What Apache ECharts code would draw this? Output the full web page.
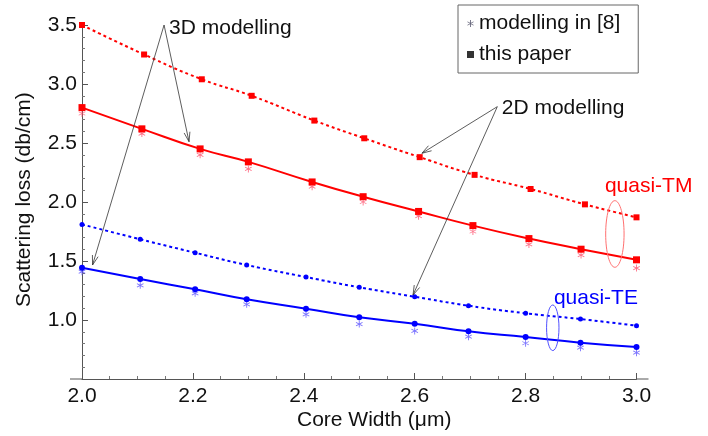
<!DOCTYPE html>
<html>
<head>
<meta charset="utf-8">
<script src="https://cdn.jsdelivr.net/npm/echarts@6/dist/echarts.min.js"></script>
<style>
html,body{margin:0;padding:0;background:#fff;}
#c{width:708px;height:436px;}
</style>
</head>
<body>
<div id="c"></div>
<script>
// ---- data ----
const xTM3 = [2.0, 2.108, 2.213, 2.3, 2.415, 2.507, 2.607, 2.705, 2.806, 2.9, 3.0];
const yTM3 = [2.80, 2.62, 2.45, 2.34, 2.17, 2.045, 1.92, 1.80, 1.69, 1.60, 1.51];
const yTMref = [2.75, 2.58, 2.40, 2.28, 2.13, 2.00, 1.88, 1.75, 1.64, 1.55, 1.44];
const xTM2 = [2.0, 2.112, 2.216, 2.306, 2.419, 2.509, 2.609, 2.708, 2.809, 2.907, 3.0];
const yTM2 = [3.50, 3.25, 3.04, 2.90, 2.69, 2.54, 2.38, 2.23, 2.11, 1.98, 1.87];
const xTE = [2.0, 2.105, 2.204, 2.297, 2.404, 2.5, 2.6, 2.697, 2.8, 2.899, 3.0];
const yTE3 = [1.443, 1.347, 1.260, 1.175, 1.096, 1.023, 0.969, 0.904, 0.856, 0.808, 0.771];
const yTEref = [1.409, 1.294, 1.226, 1.133, 1.048, 0.966, 0.907, 0.859, 0.803, 0.765, 0.723];
const yTE2 = [1.81, 1.684, 1.570, 1.466, 1.364, 1.277, 1.197, 1.121, 1.057, 1.008, 0.952];
const legendNames = ['modelling in [8]', 'this paper'];
const xName = 'Core Width (\u03bcm)';
const yName = 'Scattering loss (db/cm)';
const labels3D = '3D modelling';
const labels2D = '2D modelling';
const labelTM = 'quasi-TM';
const labelTE = 'quasi-TE';

const pair = (xs, ys) => xs.map((x, i) => [x, ys[i]]);
const STAR = 'path://M4.4 0 L5.6 0 L5.6 10 L4.4 10 Z M0.37 3.02 L0.97 1.98 L9.63 6.98 L9.03 8.02 Z M9.03 1.98 L9.63 3.02 L0.97 8.02 L0.37 6.98 Z';
const FONT = 'Liberation Sans, Arial, sans-serif';
const RED = '#ff0000', BLUE = '#0000ff';

const chart = echarts.init(document.getElementById('c'), null, {renderer: 'canvas'});
const option = {
  animation: false,
  backgroundColor: '#fff',
  grid: {left: 82, right: 71.5, top: 25, bottom: 57},
  xAxis: {
    type: 'value', min: 2, max: 3, interval: 0.2,
    axisLine: {lineStyle: {color: '#555', width: 1}},
    axisTick: {inside: true, length: 6, lineStyle: {color: '#555'}},
    minorTick: {show: true, splitNumber: 4, length: 3, lineStyle: {color: '#777'}},
    splitLine: {show: false},
    axisLabel: {color: '#111', fontSize: 21, fontFamily: FONT, margin: 7, formatter: v => v.toFixed(1)}
  },
  yAxis: {
    type: 'value', min: 0.5, max: 3.5, interval: 0.5,
    axisLine: {show: true, lineStyle: {color: '#555', width: 1}},
    axisTick: {show: true, inside: true, length: 6, lineStyle: {color: '#555'}},
    minorTick: {show: true, splitNumber: 5, length: 3, lineStyle: {color: '#777'}},
    splitLine: {show: false},
    axisLabel: {color: '#111', fontSize: 21, fontFamily: FONT, margin: 5,
      formatter: v => (Math.abs(v - 0.5) < 1e-9 ? '' : v.toFixed(1))}
  },
  legend: {
    orient: 'vertical', left: 458, top: 5,
    padding: [8, 18, 8, 9], itemGap: 10, itemWidth: 7, itemHeight: 7,
    borderColor: '#666', borderWidth: 1, backgroundColor: '#fff',
    textStyle: {fontSize: 21, fontFamily: FONT, color: '#111', lineHeight: 21},
    data: [
      {name: legendNames[0], icon: STAR, itemStyle: {color: '#3a3a55'}},
      {name: legendNames[1], icon: 'rect', itemStyle: {color: '#000'}}
    ]
  },
  series: [
    {type: 'line', name: 'TM 2D', data: pair(xTM2, yTM2), smooth: true,
      symbol: 'rect', symbolSize: 6, itemStyle: {color: RED},
      lineStyle: {color: RED, width: 2, type: [3, 3]}, z: 3},
    {type: 'line', name: 'TM 3D', data: pair(xTM3, yTM3), smooth: true,
      symbol: 'rect', symbolSize: 7, itemStyle: {color: RED},
      lineStyle: {color: RED, width: 2}, z: 3},
    {type: 'scatter', name: 'TM ref', data: pair(xTM3, yTMref),
      symbol: STAR, symbolSize: 7, itemStyle: {color: '#ff4d6a'}, z: 2},
    {type: 'line', name: 'TE 2D', data: pair(xTE, yTE2), smooth: true,
      symbol: 'circle', symbolSize: 5, itemStyle: {color: BLUE},
      lineStyle: {color: BLUE, width: 2, type: [3, 3]}, z: 3},
    {type: 'line', name: 'TE 3D', data: pair(xTE, yTE3), smooth: true,
      symbol: 'circle', symbolSize: 6, itemStyle: {color: BLUE},
      lineStyle: {color: BLUE, width: 2}, z: 3},
    {type: 'scatter', name: 'TE ref', data: pair(xTE, yTEref),
      symbol: STAR, symbolSize: 7, itemStyle: {color: '#5a50ff'}, z: 2},
    {type: 'scatter', name: legendNames[0], data: [], symbol: STAR, itemStyle: {color: '#3a3a55'}},
    {type: 'scatter', name: legendNames[1], data: [], symbol: 'rect', itemStyle: {color: '#000'}}
  ]
};
chart.setOption(option);

// ---- annotations (positioned in data coordinates) ----
const P = (x, y) => chart.convertToPixel({gridIndex: 0}, [x, y]);
const g = [];
function arrow(from, to) {
  const a = P(from[0], from[1]), b = P(to[0], to[1]);
  g.push({type: 'line', shape: {x1: a[0], y1: a[1], x2: b[0], y2: b[1]},
    style: {stroke: '#333', lineWidth: 0.8}, z: 10});
  const ang = Math.atan2(b[1] - a[1], b[0] - a[0]);
  const L = 10, w = 0.3;
  const p1 = [b[0] - L * Math.cos(ang - w), b[1] - L * Math.sin(ang - w)];
  const p2 = [b[0] - L * Math.cos(ang + w), b[1] - L * Math.sin(ang + w)];
  g.push({type: 'polyline', shape: {points: [p1, b, p2]},
    style: {stroke: '#333', lineWidth: 0.8, fill: null}, z: 10});
}
function text(str, pos, color) {
  const p = P(pos[0], pos[1]);
  g.push({type: 'text', x: p[0], y: p[1], z: 10,
    style: {text: str, fill: color, font: '21px ' + FONT, align: 'left', verticalAlign: 'middle'}});
}
function ellipse(pos, rx, ry, color) {
  const p = P(pos[0], pos[1]);
  g.push({type: 'ellipse', shape: {cx: p[0], cy: p[1], rx: rx, ry: ry},
    style: {stroke: color, fill: null, lineWidth: 1}, z: 10});
}
const apex3D = [2.148, 3.50], apex2D = [2.749, 2.808];
arrow(apex3D, [2.193, 2.511]);
arrow(apex3D, [2.019, 1.466]);
arrow(apex2D, [2.613, 2.413]);
arrow(apex2D, [2.597, 1.212]);
text(labels3D, [2.157, 3.475], '#111');
text(labels2D, [2.757, 2.797], '#111');
text(labelTM, [2.943, 2.136], RED);
text(labelTE, [2.851, 1.186], BLUE);
ellipse([2.961, 1.729], 9.2, 33.3, '#ff7070');
ellipse([2.849, 0.934], 6.2, 22.8, '#5050ff');

// axis names
const xMid = P(2.527, 0.5);
g.push({type: 'text', x: xMid[0], y: 420, z: 10,
  style: {text: xName, fill: '#111', font: '21px ' + FONT, align: 'center', verticalAlign: 'middle'}});
const yMid = P(2, 2.02);
g.push({type: 'text', x: 24, y: yMid[1], rotation: Math.PI / 2, z: 10,
  style: {text: yName, fill: '#111', font: '21px ' + FONT, align: 'center', verticalAlign: 'middle'}});
// x-axis line extends slightly past the plotted range
const o0 = P(2, 0.5), o1 = P(3, 0.5);
g.push({type: 'line', shape: {x1: o0[0] - 12, y1: o0[1], x2: o0[0], y2: o0[1]}, style: {stroke: '#555', lineWidth: 1}});
g.push({type: 'line', shape: {x1: o1[0], y1: o1[1], x2: o1[0] + 12, y2: o1[1]}, style: {stroke: '#555', lineWidth: 1}});

chart.setOption({graphic: g});
</script>
</body>
</html>
